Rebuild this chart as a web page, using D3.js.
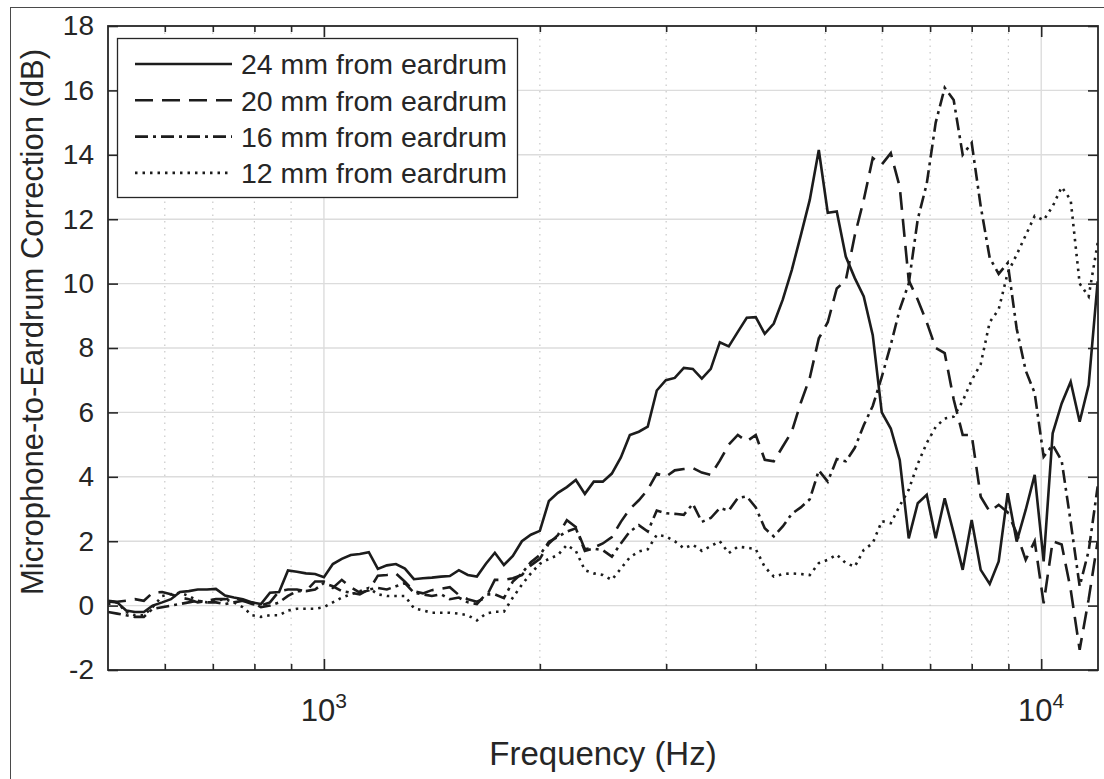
<!DOCTYPE html>
<html>
<head>
<meta charset="utf-8">
<script src="https://cdn.jsdelivr.net/npm/d3@7"></script>
<style>
  body { margin: 0; background: #fff; }
  svg { display: block; font-family: "Liberation Sans", Arial, Helvetica, sans-serif; }
</style>
</head>
<body>
<svg id="chart" width="1104" height="779"></svg>
<script>
// frequency grid (Hz), 1/24 octave from 500 Hz
const freqs = [
  500, 515, 530, 545, 561, 577, 595, 612, 630, 648, 667, 687, 707, 728, 749, 771, 794, 817, 841, 866,
  891, 917, 944, 972, 1000, 1029, 1059, 1090, 1122, 1155, 1189, 1224, 1260, 1297, 1335, 1374, 1414, 1456, 1498, 1542,
  1587, 1634, 1682, 1731, 1782, 1834, 1888, 1943, 2000, 2059, 2119, 2181, 2245, 2311, 2378, 2448, 2520, 2594, 2670, 2748,
  2828, 2911, 2997, 3084, 3175, 3268, 3364, 3462, 3564, 3668, 3776, 3886, 4000, 4117, 4238, 4362, 4490, 4622, 4757, 4897,
  5040, 5188, 5340, 5497, 5657, 5823, 5994, 6170, 6350, 6536, 6728, 6925, 7127, 7336, 7551, 7772, 8000, 8235, 8476, 8724,
  8980, 9243, 9514, 9793, 10079, 10375, 10679, 10992, 11314, 11646, 11987
];

// correction in dB for each distance from the eardrum
const mm24 = [
  0.13, 0.1, -0.15, -0.2, -0.2, 0.0, 0.1, 0.2, 0.42, 0.45,
  0.5, 0.5, 0.52, 0.31, 0.25, 0.2, 0.1, 0.05, 0.4, 0.42,
  1.09, 1.05, 1.0, 0.98, 0.88, 1.29, 1.45, 1.57, 1.6, 1.66,
  1.14, 1.25, 1.29, 1.15, 0.82, 0.85, 0.87, 0.9, 0.92, 1.1,
  0.95, 0.9, 1.3, 1.64, 1.26, 1.54, 2.0, 2.2, 2.32, 3.25,
  3.5, 3.68, 3.9, 3.47, 3.85, 3.85, 4.1, 4.6, 5.3, 5.4,
  5.56, 6.68, 7.0, 7.07, 7.38, 7.35, 7.05, 7.35, 8.18, 8.05,
  8.5, 8.94, 8.96, 8.44, 8.76, 9.5, 10.42, 11.5, 12.6, 14.15,
  12.2, 12.24, 10.84, 10.17, 9.6, 8.4, 6.0, 5.5, 4.52, 2.09,
  3.18, 3.44, 2.09, 3.33, 2.25, 1.11, 2.66, 1.11, 0.67, 1.37,
  3.49, 1.99, 2.97, 4.06, 1.37, 5.35, 6.28, 6.95, 5.71, 6.85, 10.07
];
const mm20 = [
  0.15, 0.12, 0.15, 0.2, 0.15, 0.4, 0.42, 0.35, 0.25, 0.2,
  0.1, 0.15, 0.2, 0.2, 0.25, 0.15, 0.05, 0.0, 0.1, 0.45,
  0.5, 0.5, 0.45, 0.75, 0.75, 0.55, 0.8, 0.57, 0.4, 0.47,
  0.93, 0.95, 1.0, 0.74, 0.45, 0.38, 0.48, 0.52, 0.57, 0.33,
  0.2, 0.12, 0.25, 0.8, 0.8, 0.85, 0.95, 1.25, 1.45, 1.93,
  2.19, 2.65, 2.44, 1.75, 1.8, 1.93, 2.13, 2.6, 3.0, 3.27,
  3.6, 4.1, 4.0, 4.2, 4.24, 4.27, 4.13, 4.06, 4.5, 5.0,
  5.3, 5.1, 5.3, 4.53, 4.48, 4.94, 5.4, 6.3, 7.07, 8.3,
  8.8, 9.85, 10.1, 11.5, 12.6, 13.9, 13.7, 14.05, 13.0, 10.1,
  9.5, 8.8, 8.0, 7.84, 6.4, 5.3, 5.3, 3.38, 2.92, 3.13,
  2.9, 2.25, 1.42, 2.0, 0.07, 2.0, 1.9, 0.5, -1.37, 0.2, 2.0
];
const mm16 = [
  -0.2, -0.25, -0.3, -0.35, -0.35, -0.1, -0.05, 0.0, 0.05, 0.1,
  0.15, 0.1, 0.1, 0.05, 0.1, 0.15, 0.1, -0.05, 0.0, 0.1,
  0.3, 0.45, 0.45, 0.5, 0.7, 0.6, 0.45, 0.4, 0.35, 0.5,
  0.55, 0.5, 0.6, 0.7, 0.4, 0.35, 0.3, 0.35, 0.2, 0.25,
  0.1, 0.05, 0.35, 0.35, 0.23, 0.75, 1.0, 1.35, 1.57, 1.98,
  2.13, 2.3, 2.4, 1.7, 1.77, 1.72, 1.52, 1.93, 2.3, 2.5,
  2.3, 2.95, 2.87, 2.85, 2.82, 3.16, 2.6, 2.72, 3.03, 2.95,
  3.34, 3.39, 3.05, 2.4, 2.15, 2.46, 2.85, 3.05, 3.3, 4.2,
  3.85, 4.55, 4.48, 4.9, 5.6, 6.2, 7.1, 8.1, 9.2, 10.0,
  12.0, 13.1, 15.0, 16.08, 15.7, 14.0, 14.37, 12.4, 10.8, 10.3,
  10.64, 8.6, 7.3, 6.6, 4.62, 4.99, 4.5, 2.6, 0.6, 1.7, 3.7
];
const mm12 = [
  0.05, 0.1, -0.2, -0.3, -0.3, -0.05, 0.3, 0.35, 0.4, 0.3,
  0.15, 0.1, 0.15, 0.2, 0.1, -0.05, -0.3, -0.35, -0.3, -0.3,
  -0.15, -0.1, -0.1, -0.1, -0.05, 0.1, 0.25, 0.35, 0.45, 0.55,
  0.35, 0.3, 0.3, 0.3, -0.08, -0.15, -0.22, -0.22, -0.22, -0.25,
  -0.3, -0.46, -0.25, -0.19, -0.19, 0.25, 0.65, 1.0, 1.3, 1.45,
  1.57, 1.88, 1.7, 1.1, 1.0, 0.95, 0.8, 1.15, 1.5, 1.68,
  1.75, 2.2, 2.15, 2.0, 1.78, 1.89, 1.7, 1.85, 2.0, 1.63,
  1.83, 1.8, 1.75, 1.2, 0.9, 0.98, 1.0, 0.98, 0.95, 1.32,
  1.42, 1.58, 1.32, 1.21, 1.73, 1.94, 2.62, 2.56, 3.1, 3.6,
  4.4, 5.05, 5.55, 5.81, 5.87, 6.35, 7.0, 7.5, 8.8, 9.2,
  10.33, 10.9, 11.5, 12.1, 11.97, 12.4, 13.0, 12.6, 10.0, 9.6, 11.26
];

const seriesNames = ['24 mm from eardrum', '20 mm from eardrum', '16 mm from eardrum', '12 mm from eardrum'];
const yTicks = [-2, 0, 2, 4, 6, 8, 10, 12, 14, 16, 18];
const xMajor = [1000, 10000];
const xMinor = [600, 700, 800, 900, 2000, 3000, 4000, 5000, 6000, 7000, 8000, 9000];

// styles per series: solid, dashed, dash-dot, dotted
const dashes = [null, '18,9', '13,5,3,5', '2.5,5'];

const ink = '#262626';
const pL = 108, pT = 26, pR = 1098, pB = 670;

const svg = d3.select('#chart');

// figure frame
svg.append('rect')
  .attr('x', 10.5).attr('y', 7.5)
  .attr('width', 1110).attr('height', 800)
  .attr('fill', 'none').attr('stroke', '#4a4a4a').attr('stroke-width', 1);

const x = d3.scaleLog().domain([500, 12000]).range([pL, pR]);
const y = d3.scaleLinear().domain([-2, 18]).range([pB, pT]);

// grid
const grid = svg.append('g');
grid.selectAll('.hgrid')
  .data(yTicks.slice(1, -1))
  .enter().append('line')
  .attr('x1', pL).attr('x2', pR)
  .attr('y1', d => y(d)).attr('y2', d => y(d))
  .attr('stroke', '#dcdcdc').attr('stroke-width', 1.4);
grid.selectAll('.vminor')
  .data(xMinor)
  .enter().append('line')
  .attr('x1', d => x(d)).attr('x2', d => x(d))
  .attr('y1', pT).attr('y2', pB)
  .attr('stroke', '#c9c9c9').attr('stroke-width', 1.2)
  .attr('stroke-dasharray', '1.5,5');
grid.selectAll('.vmajor')
  .data(xMajor)
  .enter().append('line')
  .attr('x1', d => x(d)).attr('x2', d => x(d))
  .attr('y1', pT).attr('y2', pB)
  .attr('stroke', '#dcdcdc').attr('stroke-width', 1.4);

// data lines
svg.append('clipPath').attr('id', 'plotclip')
  .append('rect').attr('x', pL).attr('y', pT)
  .attr('width', pR - pL).attr('height', pB - pT);

const allSeries = [mm24, mm20, mm16, mm12];
const line = d3.line()
  .x((d, i) => x(freqs[i]))
  .y(d => y(d));

svg.append('g').attr('clip-path', 'url(#plotclip)')
  .selectAll('path')
  .data(allSeries)
  .enter().append('path')
  .attr('d', d => line(d))
  .attr('fill', 'none')
  .attr('stroke', '#1c1c1c')
  .attr('stroke-width', 2.6)
  .attr('stroke-linejoin', 'miter')
  .attr('stroke-dasharray', (d, i) => dashes[i]);

// axes (ticks inside)
function clean(g) {
  g.select('.domain').remove();
  g.selectAll('.tick line').attr('stroke', ink).attr('stroke-width', 1.6);
}

svg.append('g')
  .attr('transform', 'translate(' + pL + ',0)')
  .call(d3.axisLeft(y).tickValues(yTicks).tickFormat(d => String(d))
    .tickSizeInner(-10).tickSizeOuter(0).tickPadding(14))
  .call(clean)
  .call(g => g.selectAll('.tick text')
    .attr('fill', ink).attr('font-size', 28)
    .attr('font-family', '"Liberation Sans", Arial, sans-serif'));

svg.append('g')
  .attr('transform', 'translate(' + pR + ',0)')
  .call(d3.axisRight(y).tickValues(yTicks).tickSizeInner(-10).tickSizeOuter(0).tickFormat(''))
  .call(clean);

svg.append('g')
  .attr('transform', 'translate(0,' + pB + ')')
  .call(d3.axisBottom(x).tickValues(xMinor).tickSizeInner(-6).tickSizeOuter(0).tickFormat(''))
  .call(clean);
svg.append('g')
  .attr('transform', 'translate(0,' + pB + ')')
  .call(d3.axisBottom(x).tickValues(xMajor).tickSizeInner(-11).tickSizeOuter(0).tickFormat(''))
  .call(clean);
svg.append('g')
  .attr('transform', 'translate(0,' + pT + ')')
  .call(d3.axisTop(x).tickValues(xMinor).tickSizeInner(-6).tickSizeOuter(0).tickFormat(''))
  .call(clean);
svg.append('g')
  .attr('transform', 'translate(0,' + pT + ')')
  .call(d3.axisTop(x).tickValues(xMajor).tickSizeInner(-11).tickSizeOuter(0).tickFormat(''))
  .call(clean);

// axes box
svg.append('rect')
  .attr('x', pL).attr('y', pT)
  .attr('width', pR - pL).attr('height', pB - pT)
  .attr('fill', 'none').attr('stroke', ink).attr('stroke-width', 1.8);

// x tick labels as 10^n
const xl = svg.append('g').selectAll('text')
  .data(xMajor)
  .enter().append('text')
  .attr('x', d => x(d))
  .attr('y', 721)
  .attr('text-anchor', 'middle')
  .attr('fill', ink)
  .attr('font-size', 31);
xl.append('tspan').text('10');
xl.append('tspan')
  .attr('font-size', 21)
  .attr('dy', -13)
  .text(d => Math.round(Math.log10(d)));

// axis titles
svg.append('text')
  .attr('x', (pL + pR) / 2).attr('y', 765)
  .attr('text-anchor', 'middle')
  .attr('fill', ink).attr('font-size', 33)
  .text('Frequency (Hz)');

svg.append('text')
  .attr('transform', 'translate(43,322) rotate(-90)')
  .attr('text-anchor', 'middle')
  .attr('fill', ink).attr('font-size', 31)
  .text('Microphone-to-Eardrum Correction (dB)');

// legend
const lg = svg.append('g');
lg.append('rect')
  .attr('x', 117.5).attr('y', 38.5)
  .attr('width', 400).attr('height', 159)
  .attr('fill', '#fff').attr('stroke', ink).attr('stroke-width', 1.3);

const rows = lg.selectAll('.row')
  .data(seriesNames)
  .enter().append('g')
  .attr('transform', (d, i) => 'translate(0,' + (64 + i * 36.3) + ')');
rows.append('line')
  .attr('x1', 135).attr('x2', 232)
  .attr('y1', 0).attr('y2', 0)
  .attr('stroke', '#1c1c1c').attr('stroke-width', 2.6)
  .attr('stroke-dasharray', (d, i) => dashes[i]);
rows.append('text')
  .attr('x', 241).attr('y', 0).attr('dy', '0.36em')
  .attr('fill', ink).attr('font-size', 28.5)
  .text(d => d);
</script>
</body>
</html>
